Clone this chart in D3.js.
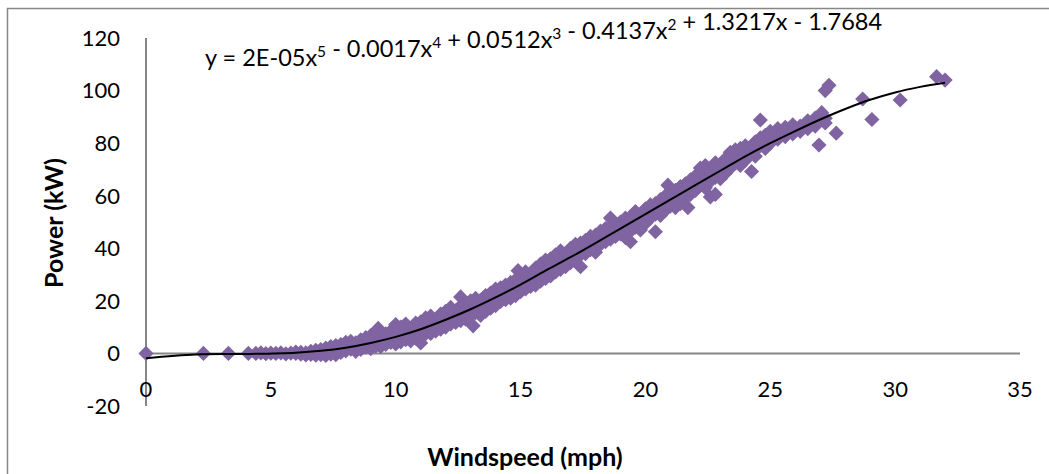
<!DOCTYPE html>
<html lang="en">
<head>
<meta charset="UTF-8">
<script src="https://d3js.org/d3.v7.min.js"></script>
<title>Power vs Windspeed</title>
<style>
  body { margin: 0; background: #fff; }
  svg text { font-family: Lato, "Open Sans", sans-serif; fill: #000; }
</style>
</head>
<body>
<svg id="chart" width="1049" height="474"></svg>
<script>
// windspeed (mph) / power (kW) readings
const windspeed = [
  0, 2.3, 3.3, 4.1, 4.4, 4.6, 4.8, 5.0, 5.2, 5.4, 5.6, 5.8,
  6.0, 6.0, 6.2, 6.2, 6.4, 6.4, 6.6, 6.6, 6.8, 6.8, 6.8, 7.0, 7.0, 7.0,
  7.2, 7.2, 7.2, 7.4, 7.4, 7.4, 7.6, 7.6, 7.6, 7.8, 7.8, 7.8,
  8.0, 8.0, 8.0, 8.2, 8.2, 8.2, 8.4, 8.4, 8.4, 8.6, 8.6, 8.6, 8.8, 8.8, 8.8,
  9.0, 9.0, 9.0, 9.2, 9.2, 9.2, 9.3, 9.4, 9.4, 9.4, 9.6, 9.6, 9.6, 9.8, 9.8, 9.8,
  10.0, 10.0, 10.0, 10.0, 10.2, 10.2, 10.2, 10.4, 10.4, 10.4, 10.6, 10.6, 10.6,
  10.8, 10.8, 10.8, 11.0, 11.0, 11.0, 11.0, 11.2, 11.2, 11.2, 11.4, 11.4, 11.4, 11.4,
  11.6, 11.6, 11.6, 11.8, 11.8, 11.8, 12.0, 12.0, 12.0, 12.2, 12.2, 12.2,
  12.4, 12.4, 12.4, 12.6, 12.6, 12.6, 12.6, 12.8, 12.8, 12.8, 13.0, 13.0, 13.0, 13.1,
  13.2, 13.2, 13.2, 13.4, 13.4, 13.4, 13.6, 13.6, 13.6, 13.8, 13.8, 13.8,
  14.0, 14.0, 14.0, 14.2, 14.2, 14.2, 14.4, 14.4, 14.4, 14.6, 14.6, 14.6,
  14.8, 14.8, 14.8, 14.9, 15.0, 15.0, 15.0, 15.2, 15.2, 15.2, 15.4, 15.4, 15.4,
  15.6, 15.6, 15.6, 15.8, 15.8, 15.8, 16.0, 16.0, 16.0, 16.0, 16.2, 16.2, 16.2,
  16.4, 16.4, 16.4, 16.6, 16.6, 16.6, 16.6, 16.8, 16.8, 16.8, 17.0, 17.0, 17.0,
  17.2, 17.2, 17.2, 17.4, 17.4, 17.4, 17.6, 17.6, 17.6, 17.8, 17.8, 17.8,
  18.0, 18.0, 18.0, 18.0, 18.2, 18.2, 18.2, 18.4, 18.4, 18.4, 18.6, 18.6, 18.6, 18.6,
  18.8, 18.8, 18.8, 19.0, 19.0, 19.0, 19.2, 19.2, 19.2, 19.4, 19.4, 19.4, 19.4,
  19.6, 19.6, 19.6, 19.8, 19.8, 19.8, 20.0, 20.0, 20.0, 20.2, 20.2, 20.2,
  20.4, 20.4, 20.4, 20.6, 20.6, 20.6, 20.8, 20.8, 20.8, 20.9, 21.0, 21.0, 21.0,
  21.2, 21.2, 21.2, 21.4, 21.4, 21.4, 21.6, 21.6, 21.6, 21.7, 21.8, 21.8, 21.8,
  22.0, 22.0, 22.0, 22.2, 22.2, 22.2, 22.4, 22.4, 22.4, 22.6, 22.6, 22.6,
  22.8, 22.8, 22.8, 22.8, 23.0, 23.0, 23.0, 23.2, 23.2, 23.2, 23.4, 23.4, 23.4,
  23.6, 23.6, 23.6, 23.8, 23.8, 23.8, 24.0, 24.0, 24.0, 24.25,
  24.4, 24.4, 24.4, 24.6, 24.6, 24.6, 24.8, 24.8, 24.8, 25.0, 25.0, 25.0,
  25.3, 25.3, 25.3, 25.6, 25.6, 25.6, 25.9, 25.9, 25.9, 26.2, 26.2,
  26.5, 26.5, 26.5, 26.8, 26.8, 26.8, 26.95, 27.06, 27.2, 27.2, 27.2, 27.35,
  27.64, 28.7, 29.07, 30.2, 31.66, 32.0
];
const power = [
  0, 0, 0, 0, 0, 0.2, -0.1, 0.1, 0, 0.2, -0.2, 0.1,
  0, 0.5, -0.3, 0.4, 0.2, -0.6, 0.8, -0.4, 1.2, -0.7, 0.3, 1.5, -0.5, 0.6,
  2.0, 0.2, -0.8, 2.6, 0.8, -0.3, 3.0, 1.2, -0.5, 2.2, 0.4, 3.4,
  1.0, 4.2, 2.5, 4.6, 1.6, 3.0, 2.0, 4.0, 0.8, 5.2, 3.0, 1.5, 2.4, 4.6, 6.0,
  3.5, 6.8, 1.8, 5.0, 2.8, 7.2, 9.5, 6.5, 4.0, 2.6, 7.5, 5.2, 3.4, 4.2, 8.5, 6.0,
  9.0, 5.0, 3.6, 11.0, 6.6, 10.0, 4.4, 8.0, 5.2, 11.2, 9.5, 6.5, 4.8,
  11.5, 7.8, 5.8, 8.8, 12.0, 6.5, 4.0, 10.5, 7.5, 13.5, 14.2, 9.0, 11.8, 7.6,
  10.2, 13.0, 8.5, 15.0, 11.0, 9.2, 12.5, 16.0, 10.0, 14.0, 11.2, 17.5,
  13.0, 16.2, 11.8, 18.0, 14.5, 12.5, 21.5, 15.8, 19.0, 13.0, 17.0, 14.2, 20.0, 10.5,
  18.5, 15.5, 21.0, 16.8, 20.2, 14.5, 22.0, 18.0, 16.0, 19.5, 23.0, 17.2,
  21.0, 18.2, 24.5, 22.5, 19.8, 25.0, 20.5, 24.0, 26.0, 23.2, 27.0, 21.0,
  25.0, 22.0, 28.0, 31.5, 26.5, 23.5, 29.5, 24.5, 28.0, 31.0, 27.5, 25.5, 30.0,
  29.0, 32.5, 26.0, 31.0, 27.5, 34.0, 30.0, 33.0, 28.5, 35.5, 32.0, 29.5, 36.0,
  34.5, 31.0, 37.5, 33.5, 36.5, 32.0, 39.0, 35.0, 38.0, 33.0, 37.0, 34.5, 40.0,
  39.0, 36.0, 41.5, 37.5, 42.0, 33.0, 40.5, 38.0, 43.0, 42.0, 39.5, 44.5,
  41.0, 45.0, 43.0, 38.5, 44.0, 46.5, 41.5, 42.5, 47.5, 45.0, 46.0, 43.5, 48.5, 51.5,
  44.5, 49.0, 47.0, 48.0, 45.5, 50.0, 47.0, 51.5, 44.0, 49.5, 46.5, 52.0, 42.5,
  51.0, 48.0, 54.0, 50.0, 53.0, 47.0, 52.5, 55.0, 49.5, 54.0, 51.5, 56.5,
  53.0, 57.0, 46.3, 55.5, 52.5, 58.5, 57.5, 54.5, 60.0, 64.0, 56.0, 59.0, 61.0,
  58.0, 62.0, 55.5, 60.0, 57.0, 63.5, 61.5, 64.5, 59.0, 55.5, 63.0, 60.5, 66.0,
  65.0, 62.0, 67.5, 64.0, 68.5, 70.5, 66.5, 63.0, 71.5, 68.0, 65.5, 59.5,
  70.0, 67.0, 72.5, 60.5, 69.0, 72.0, 66.5, 71.5, 74.0, 68.5, 73.0, 70.5, 76.5,
  75.0, 72.5, 77.5, 74.0, 78.0, 71.5, 76.5, 79.0, 73.5, 69.2,
  77.5, 80.5, 75.0, 79.0, 88.8, 82.0, 80.5, 78.0, 83.0, 82.0, 84.5, 80.0,
  83.0, 85.5, 81.5, 84.0, 82.5, 86.0, 85.0, 83.5, 87.0, 86.5, 84.5,
  87.0, 85.5, 88.5, 88.0, 86.5, 89.5, 79.3, 91.6, 87.7, 89.5, 100.0, 102.0,
  83.8, 96.8, 89.0, 96.4, 105.3, 104.0
];

// polynomial trendline, sampled off the drawn curve
const trendX = [0, 2, 4, 6, 7, 8, 9, 10, 11, 12, 13, 14, 15, 16, 17, 18, 19, 20,
  21, 22, 23, 24, 25, 26, 27, 28, 29, 30, 31, 32];
const trendY = [-1.8, -0.4, -0.2, 0.3, 1.0, 2.2, 4.0, 6.3, 9.2, 12.8, 16.8, 21.3, 26.2,
  31.5, 36.6, 42.0, 47.5, 53.0, 58.5, 64.0, 69.5, 75.0, 80.0, 84.6, 89.0, 93.0, 96.5,
  99.3, 101.4, 103.0];

const xTicks = [0, 5, 10, 15, 20, 25, 30, 35];
const yTicks = [-20, 0, 20, 40, 60, 80, 100, 120];

const svg = d3.select("svg#chart");

// outer chart border (runs off the picture on right and bottom)
svg.append("rect")
  .attr("x", 7.5).attr("y", 8.5)
  .attr("width", 1100).attr("height", 600)
  .attr("fill", "none")
  .attr("stroke", "#868686")
  .attr("stroke-width", 1.5);

const x = d3.scaleLinear().domain([0, 35]).range([146, 1020]);
const y = d3.scaleLinear().domain([-20, 120]).range([406, 38]);

// axes lines (no tick marks), crossing at zero
svg.append("line")
  .attr("x1", x(0)).attr("x2", x(0))
  .attr("y1", y(120)).attr("y2", y(-20))
  .attr("stroke", "#868686").attr("stroke-width", 2);
svg.append("line")
  .attr("x1", x(0)).attr("x2", x(35))
  .attr("y1", y(0)).attr("y2", y(0))
  .attr("stroke", "#868686").attr("stroke-width", 2);

// tick labels
svg.append("g").selectAll("text").data(yTicks).join("text")
  .attr("x", 120)
  .attr("y", d => y(d))
  .attr("dy", "0.36em")
  .attr("text-anchor", "end")
  .style("font-size", "22px")
  .text(d => d);

svg.append("g").selectAll("text").data(xTicks).join("text")
  .attr("x", d => x(d))
  .attr("y", 397)
  .attr("text-anchor", "middle")
  .style("font-size", "22px")
  .text(d => d);

// axis titles
svg.append("text")
  .attr("x", 525).attr("y", 466)
  .attr("text-anchor", "middle")
  .style("font-size", "25px")
  .style("font-weight", "bold")
  .text("Windspeed (mph)");

svg.append("text")
  .attr("transform", "translate(63,223) rotate(-90)")
  .attr("text-anchor", "middle")
  .style("font-size", "25px")
  .style("font-weight", "bold")
  .text("Power (kW)");

// points
const points = windspeed.map((d, i) => ({ ws: d, kw: power[i] }));
const diamond = d3.symbol().type(d3.symbolSquare).size(115);
svg.append("g").selectAll("path").data(points).join("path")
  .attr("d", diamond)
  .attr("transform", d => `translate(${x(d.ws)},${y(d.kw)}) rotate(45)`)
  .attr("fill", "#8064A2");

// trendline
const trend = trendX.map((d, i) => [d, trendY[i]]);
svg.append("path")
  .datum(trend)
  .attr("fill", "none")
  .attr("stroke", "#000")
  .attr("stroke-width", 2)
  .attr("d", d3.line().x(d => x(d[0])).y(d => y(d[1])).curve(d3.curveCatmullRom));

// trendline equation
const eq = svg.append("text")
  .attr("x", 205).attr("y", 66)
  .style("font-size", "23.5px");
const parts = [["y = 2E-05x", "5"], [" - 0.0017x", "4"], [" + 0.0512x", "3"],
  [" - 0.4137x", "2"], [" + 1.3217x - 1.7684", null]];
parts.forEach(p => {
  eq.append("tspan").text(p[0]);
  if (p[1]) {
    eq.append("tspan").attr("dy", -9).style("font-size", "15.5px").text(p[1]);
    eq.append("tspan").attr("dy", 9).text("");
  }
});
</script>
</body>
</html>
